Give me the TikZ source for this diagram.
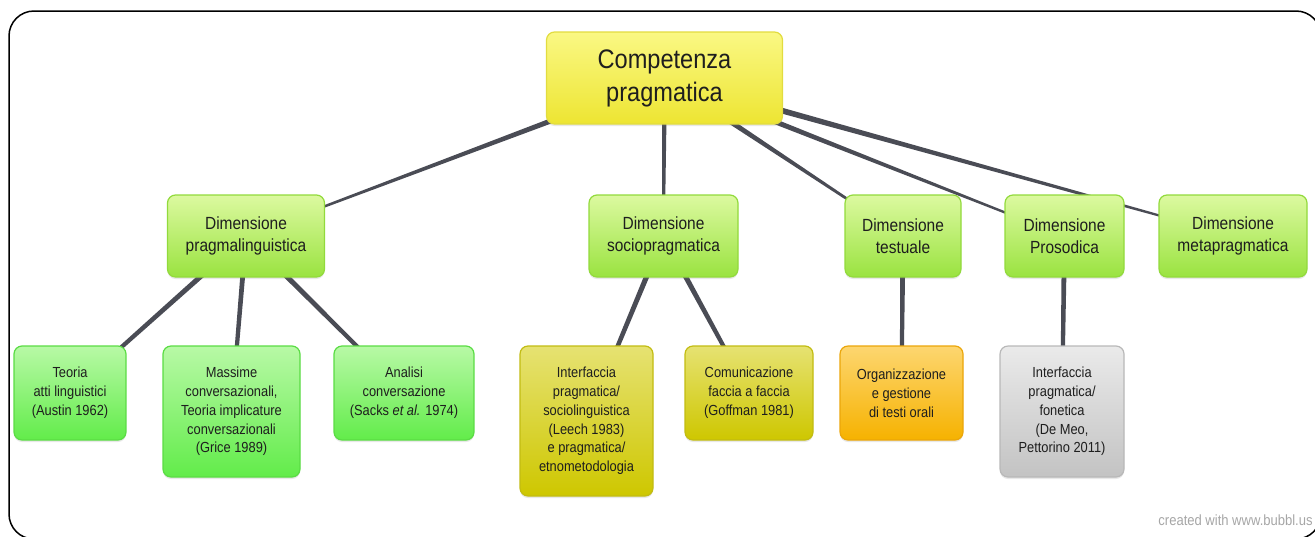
\documentclass[tikz,border=0pt]{standalone}
\usepackage{fontspec}
\setmainfont{Liberation Sans}[FakeStretch=0.88]
\usepackage{xcolor}
\usetikzlibrary{calc,shadows}

\definecolor{rootTop}{HTML}{FAF884}
\definecolor{rootBot}{HTML}{EDE532}
\definecolor{rootLine}{HTML}{E2DC40}
\definecolor{limeTop}{HTML}{DCF9A0}
\definecolor{limeBot}{HTML}{9AE340}
\definecolor{limeLine}{HTML}{92DA3C}
\definecolor{greenTop}{HTML}{B8F9A6}
\definecolor{greenBot}{HTML}{62EC4A}
\definecolor{greenLine}{HTML}{5ADC44}
\definecolor{oliveTop}{HTML}{E6E272}
\definecolor{oliveBot}{HTML}{CEC700}
\definecolor{oliveLine}{HTML}{C2BC12}
\definecolor{orangeTop}{HTML}{FDD670}
\definecolor{orangeBot}{HTML}{F6B200}
\definecolor{orangeLine}{HTML}{EBA60A}
\definecolor{greyTop}{HTML}{EAEAEA}
\definecolor{greyBot}{HTML}{C3C3C3}
\definecolor{greyLine}{HTML}{B8B8B8}
\definecolor{linkGrey}{HTML}{4A4C55}
\definecolor{textGrey}{HTML}{1E1E1E}

\pgfdeclarelayer{background}
\pgfsetlayers{background,main}

\begin{document}
\begin{tikzpicture}[x=0.5pt, y=-0.5pt,
    bubble/.style={rectangle, rounded corners=4pt, line width=0.6pt, align=center,
      text=textGrey, inner sep=2pt,
      drop shadow={shadow xshift=0pt, shadow yshift=-1pt, opacity=0.18}},
    rootbox/.style={bubble, draw=rootLine, top color=rootTop, bottom color=rootBot,
      font=\fontsize{13.4}{16.5}\selectfont},
    dimbox/.style={bubble, draw=limeLine, top color=limeTop, bottom color=limeBot,
      minimum height=41pt, font=\fontsize{8.8}{11.2}\selectfont},
    leafbox/.style={bubble, top color=#1Top, bottom color=#1Bot, draw=#1Line,
      font=\fontsize{7.3}{9.4}\selectfont},
    link/.style={fill=linkGrey},
    frame/.style={draw=black, line width=0.75pt, rounded corners=12.5pt},
    credit/.style={text=gray!70, font=\fontsize{7.4}{9}\selectfont, inner sep=0pt}]

  \useasboundingbox (0,0) rectangle (1315,536);
  % cornice, solo la parte visibile
  \begin{scope}
    \clip (0,0) rectangle (1315,536);
    \draw[frame] (1321,45) -- (1321,11) -- (9,11) -- (9,539) -- (1321,539) -- (1321,505);
  \end{scope}

  % root
  \node[rootbox, minimum width=118pt, minimum height=46pt] (root) at (664.5,78) {Competenza\\pragmatica};

  % dimensioni
  \node[dimbox, minimum width=78.5pt] (prag) at (246,236) {Dimensione\\pragmalinguistica};
  \node[dimbox, minimum width=74.5pt] (socio) at (663.5,236) {Dimensione\\sociopragmatica};
  \node[dimbox, minimum width=58pt] (test) at (903,236) {Dimensione\\testuale};
  \node[dimbox, minimum width=59.5pt] (pros) at (1064.5,236) {Dimensione\\Prosodica};
  \node[dimbox, minimum width=74pt] (meta) at (1233,236) {Dimensione\\metapragmatica};

  % foglie
  \node[leafbox=green, minimum width=56pt, minimum height=47pt] (atti) at (70,393) {Teoria\\atti linguistici\\(Austin 1962)};
  \node[leafbox=green, minimum width=68.5pt, minimum height=65.5pt] (grice) at (231.5,411.5) {Massime\\conversazionali,\\Teoria implicature\\conversazionali\\(Grice 1989)};
  \node[leafbox=green, minimum width=70pt, minimum height=47pt] (sacks) at (404,393) {Analisi\\conversazione\\(Sacks \textit{et al.} 1974)};
  \node[leafbox=olive, minimum width=66.5pt, minimum height=75pt] (leech) at (586.5,421) {Interfaccia\\pragmatica/\\sociolinguistica\\(Leech 1983)\\e pragmatica/\\etnometodologia};
  \node[leafbox=olive, minimum width=64pt, minimum height=47pt] (goffman) at (749,393) {Comunicazione\\faccia a faccia\\(Goffman 1981)};
  \node[leafbox=orange, minimum width=61.5pt, minimum height=47pt] (orali) at (901.5,393) {Organizzazione\\e gestione\\di testi orali};
  \node[leafbox=grey, minimum width=62pt, minimum height=65.5pt] (demeo) at (1062,411.5) {Interfaccia\\pragmatica/\\fonetica\\(De Meo,\\Pettorino 2011)};

  \node[credit, anchor=east] (credit) at (1313,520) {created with www.bubbl.us};

  % rami, affusolati
  \begin{pgfonlayer}{background}
    \foreach \a/\b/\wa/\wb in {root/prag/1.6/0.4, root/socio/1.3/0.6, root/test/1.6/0.4,
        root/pros/1.6/0.4, root/meta/1.7/0.4,
        prag/atti/1.4/0.9, prag/grice/1.3/0.9, prag/sacks/1.4/0.9,
        socio/leech/1.4/0.9, socio/goffman/1.4/0.9,
        test/orali/1.3/0.9, pros/demeo/1.3/0.9}
      \fill[link] ($(\a.center)!\wa pt!90:(\b.center)$) -- ($(\b.center)!\wb pt!-90:(\a.center)$)
        -- ($(\b.center)!\wb pt!90:(\a.center)$) -- ($(\a.center)!\wa pt!-90:(\b.center)$) -- cycle;
  \end{pgfonlayer}
\end{tikzpicture}
\end{document}
